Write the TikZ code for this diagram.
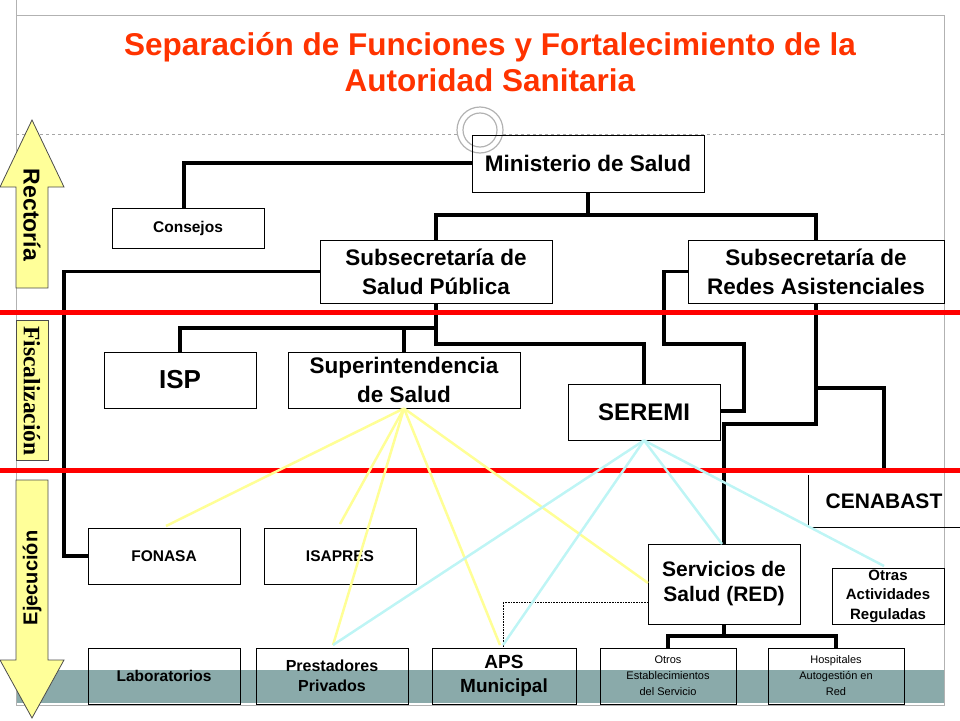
\documentclass[tikz,border=0pt]{standalone}
\usepackage{fontspec}
\setmainfont{Liberation Sans}
\newfontfamily\serifbf{Liberation Serif}
\usetikzlibrary{shapes.arrows}
\definecolor{titlered}{RGB}{255,51,0}
\definecolor{bandgray}{RGB}{138,170,170}
\definecolor{arrowyellow}{RGB}{255,255,153}
\definecolor{linkyellow}{RGB}{255,255,150}
\definecolor{linkcyan}{RGB}{190,245,245}
\tikzset{
  orgbox/.style={draw,line width=0.8pt,font=\bfseries\fontsize{22.5}{29}\selectfont,align=center},
  smallbox/.style={draw,line width=0.8pt,font=\bfseries\fontsize{15.5}{20}\selectfont,align=center},
  tree/.style={line width=3.5pt},
  supy/.style={linkyellow,line width=2.5pt},
  supc/.style={linkcyan,line width=2.5pt},
}
\newcommand{\orgnode}[6]{\node[#1,minimum width=#4pt,minimum height=#5pt,inner sep=0pt] (#2) at (#3) {#6};}
\begin{document}
\begin{tikzpicture}[x=1pt,y=-1pt]
    \useasboundingbox (0,0) rectangle (960,720);
    % marco y fondo
    \fill[bandgray] (16,670) rectangle (944,703);
    \draw[gray!60,line width=0.6pt] (16,0) -- (16,705) -- (944,705) -- (944,15) -- (16,15);
    \draw[gray!70,dashed,line width=0.5pt] (16,134) -- (458,134);
    \draw[gray!70,dashed,line width=0.5pt] (503,134) -- (944,134);
    \draw[gray!60,line width=1.2pt] (480,130) circle (23);
    \draw[gray!60,line width=1.2pt] (480,130) circle (17);
    % titulo
    \node[titlered,font=\bfseries\fontsize{31.5}{36}\selectfont,align=center] (titulo) at (490,62)
      {Separación de Funciones y Fortalecimiento de la\\Autoridad Sanitaria};
    % flechas laterales
    \draw[black!70,fill=arrowyellow,line width=0.8pt] (16,288) -- (16,187) -- (0,187) -- (32,120) -- (64,187) -- (48,187) -- (48,288) -- cycle;
    \node[rotate=-90,font=\bfseries\fontsize{23}{24}\selectfont] (rectoria) at (32,215) {Rectoría};
    \draw[black!70,fill=arrowyellow,line width=0.8pt] (16,320) rectangle (48,460);
    \node[rotate=-90,font=\serifbf\bfseries\fontsize{23.5}{24}\selectfont] (fiscal) at (32,391) {Fiscalización};
    \draw[black!70,fill=arrowyellow,line width=0.8pt] (16,480) -- (48,480) -- (48,660) -- (64,660) -- (32,718) -- (0,660) -- (16,660) -- cycle;
    \node[rotate=90,font=\bfseries\fontsize{20}{22}\selectfont] (ejec) at (32,578) {Ejecución};
    % cajas
    \orgnode{orgbox}{minsal}{588,163.5}{232}{57}{Ministerio de Salud}
    \orgnode{smallbox}{consejos}{188,228}{152}{40}{Consejos}
    \orgnode{orgbox}{ssp}{436,271.5}{232}{63}{Subsecretaría de\\Salud Pública}
    \orgnode{orgbox}{sra}{816,271.5}{256}{63}{Subsecretaría de\\Redes Asistenciales}
    \orgnode{orgbox,font=\bfseries\fontsize{26}{30}\selectfont}{isp}{180,380}{152}{56}{ISP}
    \orgnode{orgbox}{super}{404,380}{232}{56}{Superintendencia\\de Salud}
    \orgnode{orgbox,font=\bfseries\fontsize{24}{28}\selectfont}{seremi}{644,412}{152}{56}{SEREMI}
    \node[orgbox,draw=none,font=\bfseries\fontsize{21}{24}\selectfont] (cenabast) at (884,501) {CENABAST};
    \draw[line width=0.8pt] (808,475) -- (808,527) -- (960,527);
    \orgnode{smallbox}{fonasa}{164,556}{152}{56}{FONASA}
    \orgnode{smallbox}{isapres}{340,556}{152}{56}{ISAPRES}
    \orgnode{orgbox,font=\bfseries\fontsize{21}{25}\selectfont}{servicios}{724,584}{152}{80}{Servicios de\\Salud (RED)}
    \orgnode{smallbox,font=\bfseries\fontsize{15}{19.5}\selectfont}{otras}{888,596}{112}{56}{Otras\\Actividades\\Reguladas}
    \orgnode{smallbox}{labs}{164,676}{152}{56}{Laboratorios}
    \orgnode{smallbox,font=\bfseries\fontsize{16}{20}\selectfont}{prestadores}{332,676}{152}{56}{Prestadores\\Privados}
    \orgnode{orgbox,font=\bfseries\fontsize{19}{24}\selectfont}{aps}{504,676}{144}{56}{APS\\Municipal}
    \orgnode{smallbox,font=\fontsize{11}{16}\selectfont}{otros}{668,676}{136}{56}{Otros\\Establecimientos\\del Servicio}
    \orgnode{smallbox,font=\fontsize{11}{16}\selectfont}{hosp}{836,676}{136}{56}{Hospitales\\Autogestión en\\Red}
    % lineas de dependencia
    \draw[tree] (minsal.west |- 0,163) -- (184,163) -- (184,208);
    \draw[tree] (minsal.south) -- (588,215) -- (436,215) -- (ssp.north);
    \draw[tree] (588,215) -- (816,215) -- (sra.north);
    \draw[tree] (ssp.west) -- (64,271.5) -- (64,556) -- (fonasa.west);
    \draw[tree] (ssp.south) -- (436,344) -- (644,344) -- (seremi.north);
    \draw[tree] (436,328) -- (180,328) -- (isp.north);
    \draw[tree] (404,328) -- (super.north);
    \draw[tree] (sra.west) -- (664,271.5) -- (664,344) -- (744,344) -- (744,411) -- (seremi.east |- 0,411);
    \draw[tree] (sra.south) -- (816,424) -- (724,424) -- (servicios.north);
    \draw[tree] (816,388) -- (884,388) -- (884,470);
    \draw[tree] (servicios.south) -- (724,636) -- (668,636) -- (otros.north);
    \draw[tree] (724,636) -- (836,636) -- (hosp.north);
    \draw[densely dotted,line width=0.6pt] (servicios.west |- 0,602) -- (503,602) -- (aps.north -| 503,0);
    % franjas rojas
    \draw[red,line width=5pt] (0,312) -- (960,312);
    \draw[red,line width=5pt] (0,470) -- (960,470);
    % fiscalizacion
    \draw[supy] (super.south) -- (166,526);
    \draw[supy] (super.south) -- (340,524);
    \draw[supy] (super.south) -- (333,645);
    \draw[supy] (super.south) -- (500,645);
    \draw[supy] (super.south) -- (648,583);
    \draw[supc] (seremi.south) -- (333,645);
    \draw[supc] (seremi.south) -- (503,645);
    \draw[supc] (seremi.south) -- (722,544);
    \draw[supc] (seremi.south) -- (884,566);
\end{tikzpicture}
\end{document}
